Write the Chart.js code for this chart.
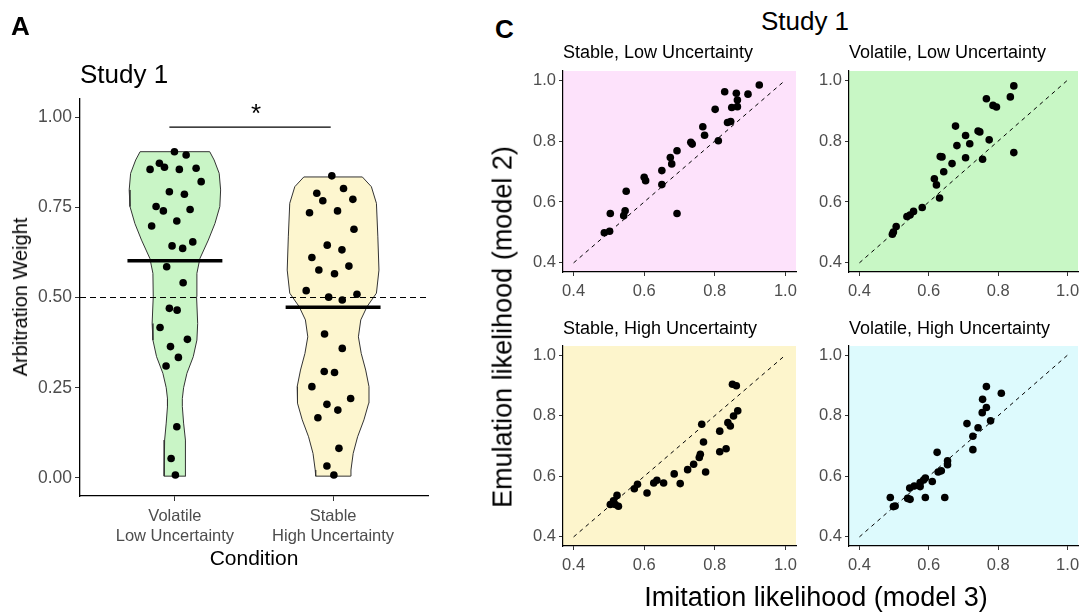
<!DOCTYPE html>
<html><head><meta charset="utf-8">
<script src="https://cdn.jsdelivr.net/npm/chart.js@4.4.1/dist/chart.umd.min.js"></script>
<style>
html,body{margin:0;padding:0;width:1080px;height:612px;overflow:hidden;background:#fff;}
body{position:relative;font-family:"Liberation Sans",Arial,Helvetica,sans-serif;}
canvas{position:absolute;}
.t{position:absolute;white-space:nowrap;color:#000;line-height:1;}
</style></head><body>
<canvas id="cA" width="440" height="612" style="left:0;top:0"></canvas>
<canvas id="cTL" style="left:493px;top:51px"></canvas>
<canvas id="cTR" style="left:779px;top:51px"></canvas>
<canvas id="cBL" style="left:493px;top:326px"></canvas>
<canvas id="cBR" style="left:779px;top:326px"></canvas>

<div class="t" style="left:11px;top:13px;font-size:26px;font-weight:bold;">A</div>
<div class="t" style="left:80px;top:61px;font-size:26px;">Study 1</div>
<div class="t" style="left:256px;top:100px;font-size:26px;transform:translateX(-50%);">*</div>
<div class="t" style="left:20px;top:297px;font-size:20px;transform:translate(-50%,-50%) rotate(-90deg);">Arbitration Weight</div>
<div class="t" style="left:254px;top:557px;font-size:21px;transform:translate(-50%,-50%);">Condition</div>

<div class="t" style="left:495px;top:16px;font-size:26px;font-weight:bold;">C</div>
<div class="t" style="left:805px;top:8px;font-size:26px;transform:translateX(-50%);">Study 1</div>
<div class="t" style="left:563px;top:43px;font-size:18px;">Stable, Low Uncertainty</div>
<div class="t" style="left:849px;top:43px;font-size:18px;">Volatile, Low Uncertainty</div>
<div class="t" style="left:563px;top:319px;font-size:18px;">Stable, High Uncertainty</div>
<div class="t" style="left:849px;top:319px;font-size:18px;">Volatile, High Uncertainty</div>
<div class="t" style="left:503px;top:327px;font-size:27px;transform:translate(-50%,-50%) rotate(-90deg);">Emulation likelihood (model 2)</div>
<div class="t" style="left:816px;top:597px;font-size:27px;transform:translate(-50%,-50%);">Imitation likelihood (model 3)</div>

<script>
// ---------- Panel A data ----------
const conditionLabels = [['Volatile', 'Low Uncertainty'], ['Stable', 'High Uncertainty']];
const weightTicks = [0, 0.25, 0.5, 0.75, 1.0];
const meanWeights = [0.602, 0.473];
const chanceLevel = 0.5;

const greenLevels = [0.904,0.881,0.844,0.798,0.752,0.705,0.659,0.608,0.567,0.502,0.428,0.382,0.336,0.290,0.250,0.220,0.198,0.152,0.105,0.013,0.005];
const greenHalfWidth = [0.220,0.248,0.280,0.289,0.284,0.253,0.211,0.158,0.139,0.137,0.144,0.139,0.116,0.076,0.055,0.047,0.047,0.055,0.065,0.068,0.068];
const yellowLevels = [0.834,0.807,0.761,0.668,0.576,0.512,0.475,0.438,0.391,0.345,0.299,0.253,0.207,0.161,0.114,0.068,0.022,0.005];
const yellowHalfWidth = [0.185,0.242,0.274,0.283,0.290,0.274,0.215,0.175,0.160,0.178,0.206,0.227,0.225,0.195,0.155,0.127,0.113,0.110];

const greenX = [0.997,1.071,0.902,0.843,0.934,1.028,1.134,1.166,0.965,1.060,0.881,0.927,1.096,0.853,1.012,0.982,1.049,1.113,0.948,1.052,0.965,1.014,0.906,1.079,0.972,1.022,0.944,1.012,0.976,1.003];
const greenY = [0.904,0.895,0.872,0.855,0.861,0.855,0.858,0.821,0.793,0.786,0.752,0.740,0.744,0.698,0.712,0.643,0.636,0.654,0.585,0.541,0.470,0.465,0.417,0.384,0.364,0.334,0.310,0.142,0.054,0.008];
const yellowX = [1.992,1.897,1.935,2.066,2.125,1.851,2.028,2.132,1.963,2.056,1.866,2.100,1.910,2.009,1.830,2.151,1.972,2.058,1.946,2.058,1.944,2.009,1.866,2.111,1.961,2.030,1.904,2.037,1.961,2.005];
const yellowY = [0.837,0.789,0.768,0.802,0.772,0.735,0.740,0.689,0.645,0.632,0.611,0.587,0.576,0.566,0.519,0.509,0.501,0.493,0.399,0.359,0.295,0.292,0.253,0.220,0.204,0.188,0.167,0.082,0.033,0.008];
const sigBar = {from: 0.965, to: 1.985, y: 0.972};

// ---------- Panel C data ----------
const likelihoodTicks = [0.4, 0.6, 0.8, 1.0];
const slX = [0.926,0.828,0.861,0.894,0.864,0.801,0.848,0.864,0.766,0.771,0.836,0.845,0.810,0.732,0.736,0.693,0.674,0.678,0.650,0.650,0.600,0.604,0.549,0.546,0.542,0.504,0.693,0.502,0.487];
const slY = [0.984,0.962,0.957,0.954,0.935,0.904,0.910,0.913,0.847,0.819,0.861,0.864,0.801,0.796,0.790,0.768,0.746,0.725,0.703,0.657,0.681,0.670,0.635,0.571,0.555,0.562,0.562,0.504,0.499];
const vlX = [0.845,0.835,0.766,0.785,0.795,0.677,0.742,0.747,0.706,0.774,0.681,0.718,0.706,0.755,0.845,0.633,0.638,0.667,0.643,0.616,0.622,0.631,0.581,0.556,0.546,0.537,0.506,0.498,0.495];
const vlY = [0.981,0.945,0.939,0.917,0.912,0.849,0.833,0.830,0.818,0.804,0.785,0.791,0.745,0.740,0.762,0.749,0.748,0.726,0.699,0.676,0.656,0.613,0.582,0.569,0.557,0.552,0.519,0.501,0.494];
const shX = [0.850,0.861,0.865,0.853,0.837,0.844,0.763,0.814,0.768,0.832,0.814,0.759,0.756,0.740,0.723,0.774,0.685,0.702,0.655,0.636,0.627,0.608,0.581,0.572,0.523,0.513,0.504,0.518,0.527];
const shY = [0.904,0.899,0.816,0.799,0.777,0.766,0.772,0.749,0.713,0.691,0.681,0.673,0.662,0.640,0.622,0.614,0.608,0.576,0.578,0.587,0.578,0.545,0.574,0.559,0.537,0.519,0.507,0.507,0.501];
const vhX = [0.766,0.809,0.755,0.766,0.754,0.778,0.710,0.742,0.727,0.727,0.624,0.654,0.654,0.636,0.627,0.610,0.590,0.585,0.575,0.575,0.558,0.545,0.539,0.546,0.489,0.590,0.646,0.503,0.498];
const vhY = [0.896,0.874,0.854,0.827,0.810,0.783,0.774,0.760,0.732,0.688,0.679,0.651,0.638,0.618,0.614,0.583,0.594,0.588,0.566,0.579,0.568,0.561,0.527,0.524,0.530,0.530,0.530,0.502,0.500];

// ---------- helpers ----------
const FONT = '"Liberation Sans", Arial, Helvetica, sans-serif';
Chart.defaults.font.family = FONT;
Chart.defaults.animation = false;
Chart.defaults.plugins.legend.display = false;
Chart.defaults.plugins.tooltip.enabled = false;
Chart.defaults.plugins.title.display = false;

function pts(xs, ys) { return xs.map((x, i) => ({x: x, y: ys[i]})); }
function violin(center, levels, hw) {
  const left = levels.map((v, i) => ({x: center - hw[i], y: v}));
  const right = levels.map((v, i) => ({x: center + hw[i], y: v})).reverse();
  return left.concat(right, [left[0]]);
}
const bgPlugin = {
  id: 'panelBg',
  beforeDraw(chart, args, opts) {
    if (!opts || !opts.color) return;
    const a = chart.chartArea, ctx = chart.ctx;
    ctx.save(); ctx.fillStyle = opts.color;
    ctx.fillRect(a.left, a.top, a.right - a.left, a.bottom - a.top);
    ctx.restore();
  }
};
Chart.register(bgPlugin);

const tickColor = '#4d4d4d';
const lineStyle = {showLine: true, pointRadius: 0, tension: 0};
const dotR = 3.8;

// ---------- Panel A ----------
new Chart(document.getElementById('cA'), {
  type: 'scatter',
  data: {datasets: [
    Object.assign({data: violin(1, greenLevels, greenHalfWidth), fill: 'shape', backgroundColor: '#c9f5c6', borderColor: '#333', borderWidth: 1, order: 10}, lineStyle),
    Object.assign({data: violin(2, yellowLevels, yellowHalfWidth), fill: 'shape', backgroundColor: '#fdf6cf', borderColor: '#333', borderWidth: 1, order: 9}, lineStyle),
    Object.assign({data: [{x: 0.4, y: chanceLevel}, {x: 2.6, y: chanceLevel}], borderColor: '#000', borderWidth: 1.2, borderDash: [6, 4], order: 5}, lineStyle),
    {data: pts(greenX, greenY), pointRadius: dotR, pointBackgroundColor: '#000', pointBorderWidth: 0, order: 2},
    {data: pts(yellowX, yellowY), pointRadius: dotR, pointBackgroundColor: '#000', pointBorderWidth: 0, order: 2},
    Object.assign({data: [{x: 0.7, y: meanWeights[0]}, {x: 1.3, y: meanWeights[0]}], borderColor: '#000', borderWidth: 3.5, order: 0}, lineStyle),
    Object.assign({data: [{x: 1.7, y: meanWeights[1]}, {x: 2.3, y: meanWeights[1]}], borderColor: '#000', borderWidth: 3.5, order: 0}, lineStyle),
    Object.assign({data: [{x: sigBar.from, y: sigBar.y}, {x: sigBar.to, y: sigBar.y}], borderColor: '#000', borderWidth: 1.2, order: 0}, lineStyle)
  ]},
  options: {
    responsive: false,
    layout: {padding: {left: 0, top: 99, right: 12, bottom: 56}},
    plugins: {panelBg: {}},
    scales: {
      x: {
        type: 'linear', min: 0.4, max: 2.6,
        afterFit(s) { s.height = 60; },
        afterBuildTicks(s) { s.ticks = [{value: 1}, {value: 2}]; },
        ticks: {callback: (v) => conditionLabels[Math.round(v) - 1], color: tickColor, font: {size: 16.5}, padding: 6, maxRotation: 0, autoSkip: false},
        grid: {drawOnChartArea: false, tickLength: 5, color: '#333'},
        border: {color: '#000', width: 1.3}
      },
      y: {
        type: 'linear', min: -0.05, max: 1.05,
        afterFit(s) { s.width = 80; },
        afterBuildTicks(s) { s.ticks = weightTicks.map(v => ({value: v})); },
        ticks: {callback: (v) => Number(v).toFixed(2), color: tickColor, font: {size: 17.5}, padding: 3},
        grid: {drawOnChartArea: false, tickLength: 5, color: '#333'},
        border: {color: '#000', width: 1.3}
      }
    }
  }
});

// ---------- Panel C ----------
function scatterPanel(id, xs, ys, bg, L, R, T, B) {
  const cv = document.getElementById(id);
  const padL = 0, padT = 20, padR = 25, yW = 70, xH = 45;
  cv.width = (R - L) + yW + padR;
  cv.height = (B - T) + padT + xH;
  new Chart(cv, {
    type: 'scatter',
    data: {datasets: [
      Object.assign({data: [{x: 0.4, y: 0.4}, {x: 1.0, y: 1.0}], borderColor: '#000', borderWidth: 1, borderDash: [4, 4], order: 5}, lineStyle),
      {data: pts(xs, ys), pointRadius: dotR, pointBackgroundColor: '#000', pointBorderWidth: 0, order: 1}
    ]},
    options: {
      responsive: false,
      layout: {padding: {left: padL, top: padT, right: padR, bottom: 0}},
      plugins: {panelBg: {color: bg}},
      scales: {
        x: {
          type: 'linear', min: 0.37, max: 1.03,
          afterFit(s) { s.height = xH; },
          afterBuildTicks(s) { s.ticks = likelihoodTicks.map(v => ({value: v})); },
          ticks: {callback: (v) => Number(v).toFixed(1), color: tickColor, font: {size: 16.5}, padding: 6, maxRotation: 0, autoSkip: false},
          grid: {drawOnChartArea: false, tickLength: 4, color: '#333'},
          border: {color: '#000', width: 1.2}
        },
        y: {
          type: 'linear', min: 0.37, max: 1.03,
          afterFit(s) { s.width = yW; },
          afterBuildTicks(s) { s.ticks = likelihoodTicks.map(v => ({value: v})); },
          ticks: {callback: (v) => Number(v).toFixed(1), color: tickColor, font: {size: 16.5}, padding: 3},
          grid: {drawOnChartArea: false, tickLength: 4, color: '#333'},
          border: {color: '#000', width: 1.2}
        }
      }
    }
  });
}
scatterPanel('cTL', slX, slY, '#fde2fb', 563, 796, 71, 272);
scatterPanel('cTR', vlX, vlY, '#c8f7c5', 849, 1078, 71, 272);
scatterPanel('cBL', shX, shY, '#fdf5cc', 563, 796, 346, 546);
scatterPanel('cBR', vhX, vhY, '#ddfafd', 849, 1078, 346, 546);
</script>
</body></html>
